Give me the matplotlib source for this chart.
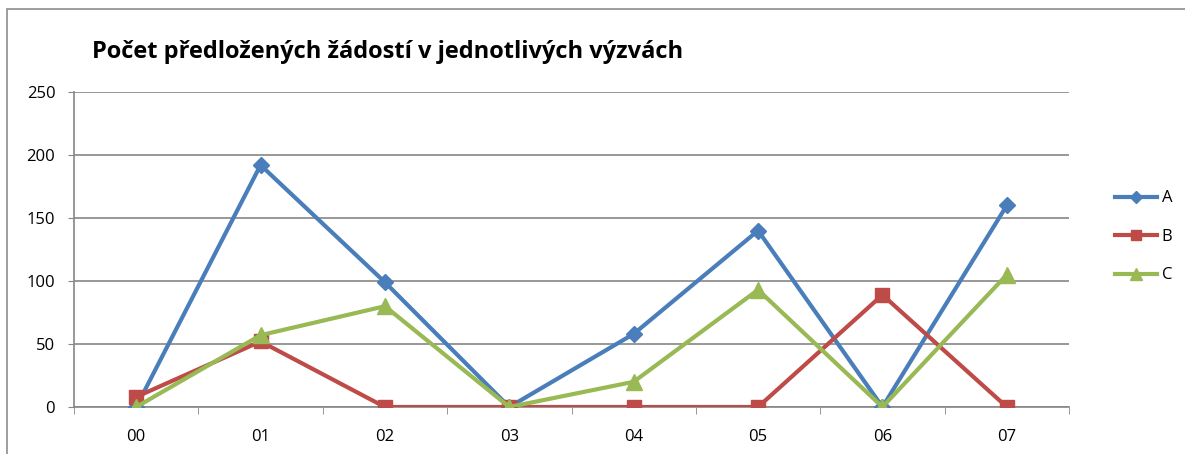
import numpy as np
import matplotlib.pyplot as plt
from matplotlib.patches import Rectangle

categories = ["00", "01", "02", "03", "04", "05", "06", "07"]
series_a = [0, 192, 99, 0, 58, 140, 0, 160]
series_b = [8, 52, 0, 0, 0, 0, 89, 0]
series_c = [0, 57, 80, 0, 20, 93, 0, 105]
y_ticks = [0, 50, 100, 150, 200, 250]

plt.rcParams['font.family'] = ['Open Sans', 'DejaVu Sans']

fig = plt.figure(figsize=(11.85, 4.54), dpi=100)
ax = fig.add_axes([74 / 1185, 1 - 407 / 454, (1069 - 74) / 1185, (407 - 92) / 454])

# outer chart frame (partly cut off)
fig.patches.append(Rectangle((7 / 1185, -0.1), 1.2, 1 - 9 / 454 + 0.1,
                             transform=fig.transFigure, fill=False,
                             edgecolor="#8c8c8c", linewidth=1.2))

x = np.arange(len(categories))
ax.plot(x, series_a, color="#4A7EBB", lw=3, marker="D", ms=8, label="A", zorder=3)
ax.plot(x, series_b, color="#BE4B48", lw=3, marker="s", ms=10, label="B", zorder=4)
ax.plot(x, series_c, color="#98B954", lw=3, marker="^", ms=11, label="C", zorder=5)

ax.set_xlim(-0.5, 7.5)
ax.set_ylim(0, 250)
ax.set_yticks(y_ticks)
ax.set_xticks(x)
ax.set_xticklabels(categories)
ax.set_xticks(np.arange(-0.5, 8, 1), minor=True)
ax.tick_params(axis="x", which="major", length=0, pad=16, labelsize=12)
ax.tick_params(axis="x", which="minor", length=5, color="#868686", direction="out")
ax.tick_params(axis="y", length=4.5, color="#868686", labelsize=12, pad=9)
ax.grid(axis="y", color="#868686", lw=1.2)
ax.set_axisbelow(True)
for s in ["top", "right"]:
    ax.spines[s].set_visible(False)
for s in ["left", "bottom"]:
    ax.spines[s].set_color("#868686")
    ax.spines[s].set_linewidth(1.2)
for lab in ax.get_yticklabels() + ax.get_xticklabels():
    lab.set_clip_on(False)

fig.text(92 / 1185, 1 - 58 / 454, "Počet předložených žádostí v jednotlivých výzvách",
         fontsize=17, fontweight="bold", ha="left", va="baseline")

ax.legend(loc="center left", bbox_to_anchor=(1.031, 0.54), frameon=False,
          fontsize=12, handlelength=2.5, handletextpad=0.3, labelspacing=1.35,
          markerscale=0.75)

fig.savefig("out.png", dpi=100)
